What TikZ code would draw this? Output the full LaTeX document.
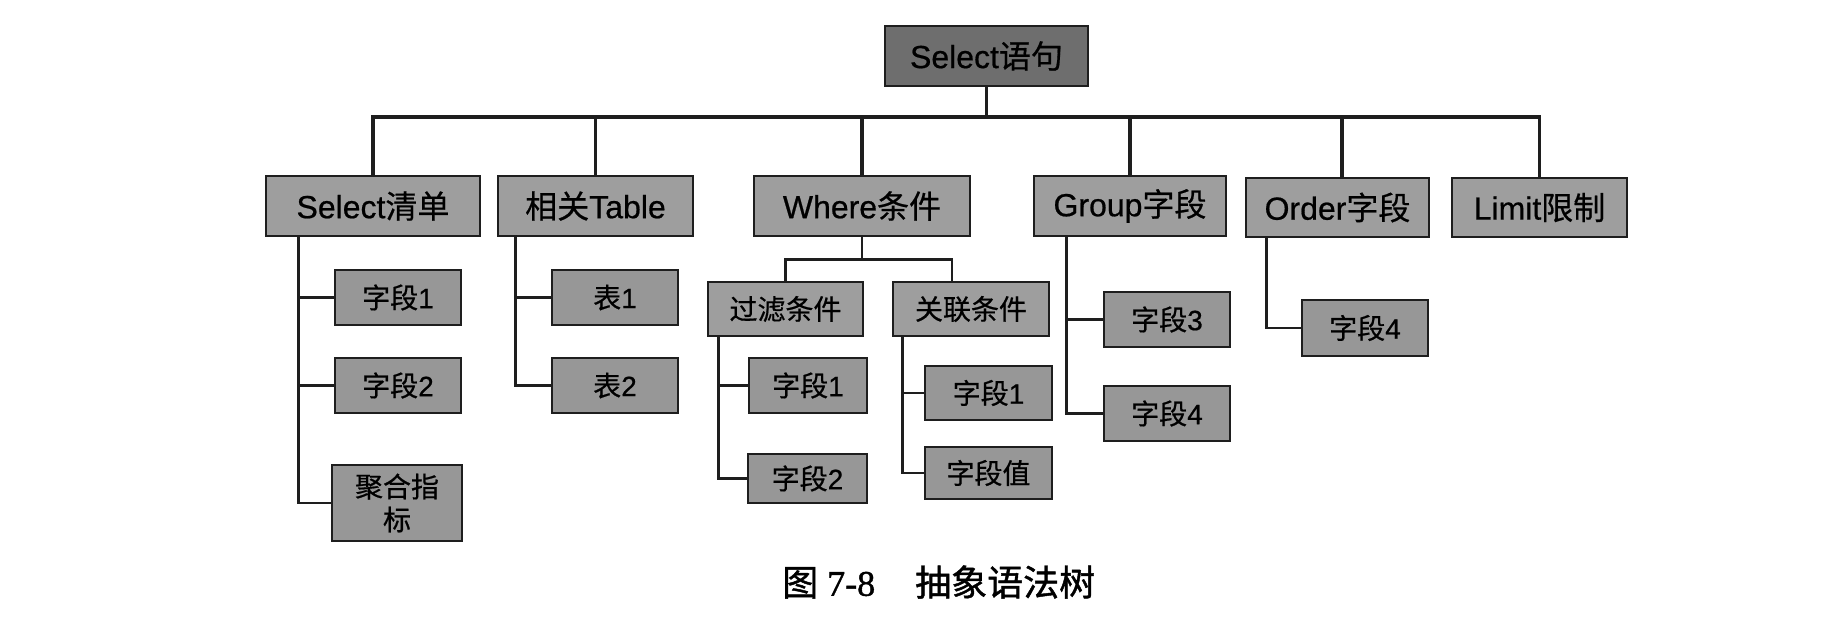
\documentclass[tikz,border=0pt]{standalone}
\usepackage{fontspec}
\setmainfont{Liberation Sans}[FakeBold=0.6]
\newfontfamily\cjk{Noto Sans CJK SC}[FakeBold=0.6]
\newfontfamily\cjkcap{Noto Sans CJK SC}[FakeBold=1.2]
\newfontfamily\capserif{Liberation Serif}[FakeBold=1.2]
\newcommand{\zh}[1]{{\cjk #1}}
\definecolor{rootgray}{HTML}{6E6E6E}
\definecolor{lvgray}{HTML}{9E9E9E}
\definecolor{leafgray}{HTML}{979797}
\definecolor{linec}{HTML}{1E1E1E}
\tikzset{
  box/.style={draw=linec, line width=2.5pt, inner sep=0pt, align=center},
  rootbox/.style={box, fill=rootgray, font=\fontsize{32}{36}\selectfont},
  lvbox/.style={box, fill=lvgray, minimum height=60pt, font=\fontsize{32}{36}\selectfont},
  subbox/.style={box, fill=lvgray, minimum height=54pt, font=\fontsize{28}{32}\selectfont},
  leafbox/.style={box, fill=leafgray, font=\fontsize{28}{33}\selectfont},
  bus/.style={draw=linec, line width=3.2pt},
  link/.style={draw=linec, line width=2.6pt},
}
\begin{document}
\begin{tikzpicture}[x=1pt,y=-1pt]
\useasboundingbox (0,0) rectangle (1842,626);
% root
\node[rootbox, minimum width=203pt, minimum height=60pt] (root) at (986.5,56) {Select\zh{语句}};
% level 1
\node[lvbox, minimum width=214pt] (sel)   at (373,206)    {Select\zh{清单}};
\node[lvbox, minimum width=195pt] (tab)   at (595.5,206)  {\zh{相关}Table};
\node[lvbox, minimum width=216pt] (where) at (862,206)    {Where\zh{条件}};
\node[lvbox, minimum width=192pt] (group) at (1130,206)   {Group\zh{字段}};
\node[lvbox, minimum width=183pt, minimum height=59pt] (order) at (1337.5,207.5) {Order\zh{字段}};
\node[lvbox, minimum width=175pt, minimum height=59pt] (limit) at (1539.5,207.5) {Limit\zh{限制}};
% select children
\node[leafbox, minimum width=126pt, minimum height=55pt] (sf1) at (398,297.5) {\zh{字段}1};
\node[leafbox, minimum width=126pt, minimum height=55pt] (sf2) at (398,385.5) {\zh{字段}2};
\node[leafbox, minimum width=130pt, minimum height=76pt] (agg) at (397,503) {\zh{聚合指}\\\zh{标}};
% table children
\node[leafbox, minimum width=126pt, minimum height=55pt] (t1) at (615,297.5) {\zh{表}1};
\node[leafbox, minimum width=126pt, minimum height=55pt] (t2) at (615,385.5) {\zh{表}2};
% where children
\node[subbox, minimum width=155pt] (filt) at (785.5,309) {\zh{过滤条件}};
\node[subbox, minimum width=156pt] (rel)  at (971,309)   {\zh{关联条件}};
\node[leafbox, minimum width=118pt, minimum height=55pt] (ff1) at (808,385.5) {\zh{字段}1};
\node[leafbox, minimum width=119pt, minimum height=49pt] (ff2) at (807.5,478.5) {\zh{字段}2};
\node[leafbox, minimum width=127pt, minimum height=54pt] (rf1) at (988.5,393) {\zh{字段}1};
\node[leafbox, minimum width=127pt, minimum height=52pt] (rv)  at (988.5,473) {\zh{字段值}};
% group children
\node[leafbox, minimum width=126pt, minimum height=55pt] (g3) at (1167,319.5) {\zh{字段}3};
\node[leafbox, minimum width=126pt, minimum height=55pt] (g4) at (1167,413.5) {\zh{字段}4};
% order child
\node[leafbox, minimum width=126pt, minimum height=56pt] (o4) at (1365,328) {\zh{字段}4};
% caption
\node[anchor=west, inner sep=0pt] (cap) at (782,582)
  {\fontsize{36}{40}\selectfont{\cjkcap 图}\hspace{9pt}{\capserif 7-8}\hspace{40pt}{\cjkcap 抽象语法树}};
% top-level bus
\coordinate (busy) at (0,117);
\draw[bus] (root.south) -- (root.south |- busy);
\draw[bus] (sel.north) |- (busy -| limit.north) -- (limit.north);
\draw[bus] (tab.north) -- (tab.north |- busy);
\draw[bus] (where.north) -- (where.north |- busy);
\draw[bus] (group.north) -- (group.north |- busy);
\draw[bus] ([xshift=4.5pt]order.north) -- ([xshift=4.5pt]order.north |- busy);
% select list
\draw[link] ([xshift=34pt]sel.south west) |- (sf1.west);
\draw[link] ([xshift=34pt]sel.south west) |- (sf2.west);
\draw[link] ([xshift=34pt]sel.south west) |- (agg.west);
% table
\draw[link] ([xshift=19pt]tab.south west) |- (t1.west);
\draw[link] ([xshift=19pt]tab.south west) |- (t2.west);
% where
\draw[link] (where.south) -- ++(0,22) coordinate (wj);
\draw[link] (filt.north) |- (wj) -| ([xshift=-19pt]rel.north);
\draw[link] ([xshift=12pt]filt.south west) |- (ff1.west);
\draw[link] ([xshift=12pt]filt.south west) |- (ff2.west);
\draw[link] ([xshift=11pt]rel.south west) |- (rf1.west);
\draw[link] ([xshift=11pt]rel.south west) |- (rv.west);
% group
\draw[link] ([xshift=34pt]group.south west) |- (g3.west);
\draw[link] ([xshift=34pt]group.south west) |- (g4.west);
% order
\draw[link] ([xshift=22pt]order.south west) |- (o4.west);
\end{tikzpicture}
\end{document}
